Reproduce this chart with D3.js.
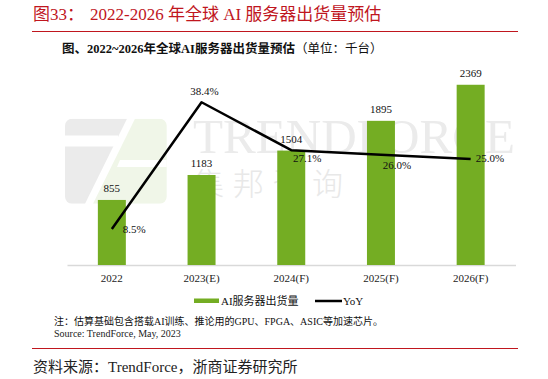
<!DOCTYPE html>
<html>
<head>
<meta charset="utf-8">
<script src="https://cdn.jsdelivr.net/npm/d3@7"></script>
<style>
  html, body { margin: 0; padding: 0; background: #fff; }
  svg { display: block; }
</style>
</head>
<body>
<svg id="chart" width="548" height="379"></svg>
<script>
// ---- data ----
const categories = ["2022", "2023(E)", "2024(F)", "2025(F)", "2026(F)"];
const shipments = [855, 1183, 1504, 1895, 2369];
const yoy = [8.5, 38.4, 27.1, 26.0, 25.0];
const yoyLabels = ["8.5%", "38.4%", "27.1%", "26.0%", "25.0%"];

// ---- label placement (style, not data) ----
const yoyLabelPlacement = [
  { dx: 11, dy: 4, anchor: "start" },
  { dx: 3, dy: -7, anchor: "middle" },
  { dx: 16, dy: 12, anchor: "middle" },
  { dx: 16, dy: 14, anchor: "middle" },
  { dx: 5, dy: 3, anchor: "start" }
];

const serif = "'Liberation Serif','Times New Roman','Noto Sans CJK SC',serif";
const svg = d3.select("#chart");

// ---- header ----
const title = svg.append("text")
  .attr("x", 33).attr("y", 20)
  .attr("fill", "#c0161e")
  .style("font-family", serif)
  .style("font-size", "17px");
title.append("tspan").text("图33：");
title.append("tspan").attr("x", 90).text("2022-2026 年全球 AI 服务器出货量预估");

svg.append("line").attr("x1", 32).attr("x2", 518).attr("y1", 31.5).attr("y2", 31.5)
  .attr("stroke", "#c0161e").attr("stroke-width", 1.2);

const sub = svg.append("text")
  .attr("x", 62).attr("y", 53)
  .attr("fill", "#111")
  .style("font-family", serif)
  .style("font-size", "12.5px");
sub.append("tspan").style("font-weight", "bold").text("图、2022~2026年全球AI服务器出货量预估");
sub.append("tspan").text("（单位：千台）");

// ---- scales ----
const x = d3.scaleBand().domain(categories).range([67, 515.5])
  .paddingInner(0.688).paddingOuter(0.344);
const y = d3.scaleLinear().domain([0, 2500]).range([265, 74.8]);
const y2 = d3.scaleLinear().domain([0, 45]).range([265, 74.3]);
const bw = x.bandwidth();

// ---- watermark ----
const wm = svg.append("g");
const defs = svg.append("defs");
defs.append("clipPath").attr("id", "logoClip")
  .append("rect").attr("x", 65).attr("y", 118.7).attr("width", 101.7).attr("height", 85).attr("rx", 7);
const logo = wm.append("g").attr("clip-path", "url(#logoClip)");
logo.append("polygon").attr("points", "60,118.7 127,118.7 85,203.7 60,203.7").attr("fill", "#ebebeb");
logo.append("polygon").attr("points", "135,118.7 170,118.7 170,203.7 93,203.7").attr("fill", "#f0f6e8");
logo.append("rect").attr("x", 60).attr("y", 135.5).attr("width", 58).attr("height", 11).attr("fill", "#fff");
logo.append("polygon").attr("points", "120,160 170,160 170,167 117,167").attr("fill", "#fff");

wm.append("text").attr("x", 193).attr("y", 153)
  .attr("fill", "#ebebeb")
  .attr("textLength", 322).attr("lengthAdjust", "spacingAndGlyphs")
  .style("font-family", serif).style("font-size", "49px")
  .text("TRENDFORCE");
wm.append("text").attr("x", 193).attr("y", 195)
  .attr("fill", "#e8e8e8")
  .attr("textLength", 150).attr("lengthAdjust", "spacing")
  .style("font-family", "'Noto Sans CJK SC',sans-serif").style("font-size", "31px").style("font-weight", "300")
  .text("集邦咨询");

// ---- axis ----
const axis = svg.append("g").attr("transform", "translate(0,265)")
  .call(d3.axisBottom(x).tickSize(0).tickSizeOuter(0).tickPadding(9.5));
axis.select(".domain").attr("stroke", "#d9d9d9").attr("stroke-width", 1.5);
axis.selectAll("text").attr("fill", "#222")
  .style("font-family", serif).style("font-size", "11px");

// ---- bars ----
svg.append("g").selectAll("rect").data(shipments).join("rect")
  .attr("x", (d, i) => x(categories[i]))
  .attr("y", d => y(d))
  .attr("width", bw)
  .attr("height", d => y(0) - y(d))
  .attr("fill", "#74ad23");

svg.append("g").selectAll("text").data(shipments).join("text")
  .attr("x", (d, i) => x(categories[i]) + bw / 2)
  .attr("y", d => y(d) - 8)
  .attr("text-anchor", "middle")
  .attr("fill", "#111")
  .style("font-family", serif).style("font-size", "11px")
  .text(d => d);

// ---- YoY line ----
const line = d3.line()
  .x((d, i) => x(categories[i]) + bw / 2)
  .y(d => y2(d));
svg.append("path").datum(yoy)
  .attr("d", line)
  .attr("fill", "none").attr("stroke", "#000").attr("stroke-width", 2.5)
  .attr("stroke-linejoin", "round");

svg.append("g").selectAll("text").data(yoy).join("text")
  .attr("x", (d, i) => x(categories[i]) + bw / 2 + yoyLabelPlacement[i].dx)
  .attr("y", (d, i) => y2(d) + yoyLabelPlacement[i].dy)
  .attr("text-anchor", (d, i) => yoyLabelPlacement[i].anchor)
  .attr("fill", "#111")
  .style("font-family", serif).style("font-size", "11px")
  .text((d, i) => yoyLabels[i]);

// ---- legend ----
const lg = svg.append("g");
lg.append("rect").attr("x", 194).attr("y", 298.5).attr("width", 25).attr("height", 4.5).attr("fill", "#74ad23");
lg.append("text").attr("x", 221).attr("y", 304.5).attr("fill", "#111")
  .style("font-family", serif).style("font-size", "11px").text("AI服务器出货量");
lg.append("line").attr("x1", 315).attr("x2", 342).attr("y1", 301).attr("y2", 301)
  .attr("stroke", "#000").attr("stroke-width", 2.5);
lg.append("text").attr("x", 343).attr("y", 304.5).attr("fill", "#111")
  .style("font-family", serif).style("font-size", "11px").text("YoY");

// ---- notes ----
svg.append("text").attr("x", 54).attr("y", 325).attr("fill", "#111")
  .style("font-family", serif).style("font-size", "10px")
  .text("注：估算基础包含搭载AI训练、推论用的GPU、FPGA、ASIC等加速芯片。");
svg.append("text").attr("x", 54).attr("y", 337).attr("fill", "#222")
  .style("font-family", serif).style("font-size", "10px")
  .text("Source: TrendForce, May, 2023");

svg.append("line").attr("x1", 32).attr("x2", 518).attr("y1", 348.5).attr("y2", 348.5)
  .attr("stroke", "#c0161e").attr("stroke-width", 1.2);

svg.append("text").attr("x", 33).attr("y", 371.5).attr("fill", "#222")
  .style("font-family", serif).style("font-size", "15px")
  .text("资料来源：TrendForce，浙商证券研究所");
</script>
</body>
</html>
